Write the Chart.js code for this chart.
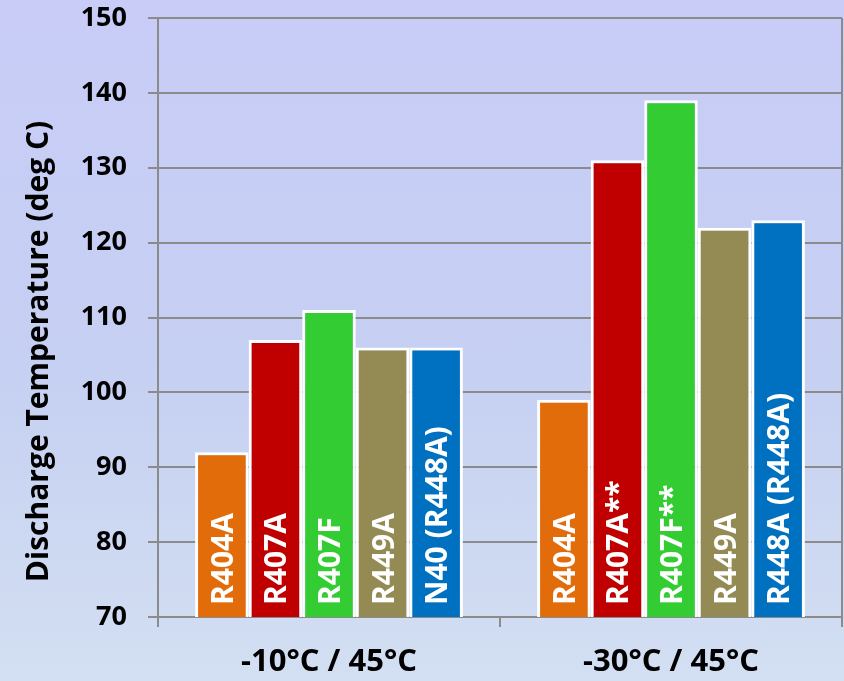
<!DOCTYPE html>
<html>
<head>
<meta charset="utf-8">
<script src="https://cdn.jsdelivr.net/npm/chart.js@4/dist/chart.umd.min.js"></script>
<style>
  html, body { margin: 0; padding: 0; }
  body {
    width: 844px; height: 681px; overflow: hidden;
    background: linear-gradient(to bottom, #c8ccf7 0%, #c6d0f2 55%, #d3dff2 100%);
  }
  #wrap { width: 844px; height: 681px; position: relative; }
</style>
</head>
<body>
<div id="wrap"><canvas id="c" width="844" height="681"></canvas></div>
<script>
// Operating conditions (evaporating / condensing)
const conditions = ['-10°C / 45°C', '-30°C / 45°C'];

// Discharge temperatures, deg C, per refrigerant
const r404aTemps = [92, 99];
const r407aTemps = [107, 131];
const r407fTemps = [111, 139];
const r449aTemps = [106, 122];
const n40Temps   = [106, 123];

// Text written inside each bar, per condition
const r404aLabels = ['R404A', 'R404A'];
const r407aLabels = ['R407A', 'R407A**'];
const r407fLabels = ['R407F', 'R407F**'];
const r449aLabels = ['R449A', 'R449A'];
const n40Labels   = ['N40 (R448A)', 'R448A (R448A)'];

// Y axis range and title
const yMin = 70, yMax = 150, yStep = 10;
const yTitle = 'Discharge Temperature (deg C)';

const FONT = '"Open Sans", sans-serif';
const GRID = '#8b8b8b';

const series = [
  { name: 'R404A', data: r404aTemps, labels: r404aLabels, color: '#e36c0a' },
  { name: 'R407A', data: r407aTemps, labels: r407aLabels, color: '#c00000' },
  { name: 'R407F', data: r407fTemps, labels: r407fLabels, color: '#33cc33' },
  { name: 'R449A', data: r449aTemps, labels: r449aLabels, color: '#948a54' },
  { name: 'N40',   data: n40Temps,   labels: n40Labels,   color: '#0070c0' }
];

// Writes each bar's name vertically inside the bar, upward from the axis
const barText = {
  id: 'barText',
  afterDatasetsDraw(chart) {
    const ctx = chart.ctx;
    const bottom = chart.scales.y.getPixelForValue(yMin);
    ctx.save();
    ctx.fillStyle = '#ffffff';
    ctx.font = 'bold 30px ' + FONT;
    ctx.textAlign = 'left';
    ctx.textBaseline = 'alphabetic';
    series.forEach((s, di) => {
      chart.getDatasetMeta(di).data.forEach((bar, i) => {
        const p = bar.getProps(['x'], true);
        ctx.save();
        ctx.translate(p.x + 11, bottom - 12);
        ctx.rotate(-Math.PI / 2);
        ctx.fillText(s.labels[i], 0, 0);
        ctx.restore();
      });
    });
    ctx.restore();
  }
};

// Vertical y-axis title, set a little below the middle of the axis
const axisTitle = {
  id: 'axisTitle',
  afterDraw(chart) {
    const ctx = chart.ctx;
    const y = chart.scales.y;
    const mid = (y.getPixelForValue(yMin) + y.getPixelForValue(yMax)) / 2 + 34;
    ctx.save();
    ctx.fillStyle = '#000000';
    ctx.font = 'bold 30px ' + FONT;
    ctx.textAlign = 'center';
    ctx.textBaseline = 'alphabetic';
    ctx.translate(48, mid);
    ctx.rotate(-Math.PI / 2);
    ctx.fillText(yTitle, 0, 0);
    ctx.restore();
  }
};

new Chart(document.getElementById('c'), {
  type: 'bar',
  data: {
    labels: conditions,
    datasets: series.map(s => ({
      label: s.name,
      data: s.data,
      backgroundColor: s.color,
      borderColor: '#ffffff',
      borderWidth: 3,
      borderSkipped: false,
      barPercentage: 1.0,
      categoryPercentage: 0.783
    }))
  },
  options: {
    responsive: false,
    animation: false,
    devicePixelRatio: 1,
    layout: { padding: { top: 18, right: 2, left: 0, bottom: 0 } },
    plugins: { legend: { display: false }, tooltip: { enabled: false } },
    scales: {
      x: {
        grid: {
          offset: true,
          color: (c) => (c.index === 1 ? 'rgba(0,0,0,0)' : GRID),
          tickColor: GRID,
          lineWidth: 2,
          tickLength: 10
        },
        border: { display: true, color: GRID, width: 2 },
        ticks: {
          color: '#000000',
          font: { family: FONT, size: 31, weight: 'bold' },
          padding: 17,
          maxRotation: 0
        },
        afterFit(scale) {
          scale.height = 64;
          scale.paddingLeft = 0; scale.paddingRight = 0;
        }
      },
      y: {
        min: yMin,
        max: yMax,
        grid: { color: GRID, lineWidth: 2, tickLength: 10 },
        border: { display: true, color: GRID, width: 2 },
        ticks: {
          stepSize: yStep,
          color: '#000000',
          font: { family: FONT, size: 27, weight: 'bold' },
          padding: 21
        },
        afterFit(scale) {
          scale.width = 158;
          scale.paddingTop = 0; scale.paddingBottom = 0;
        }
      }
    }
  },
  plugins: [barText, axisTitle]
});
</script>
</body>
</html>
